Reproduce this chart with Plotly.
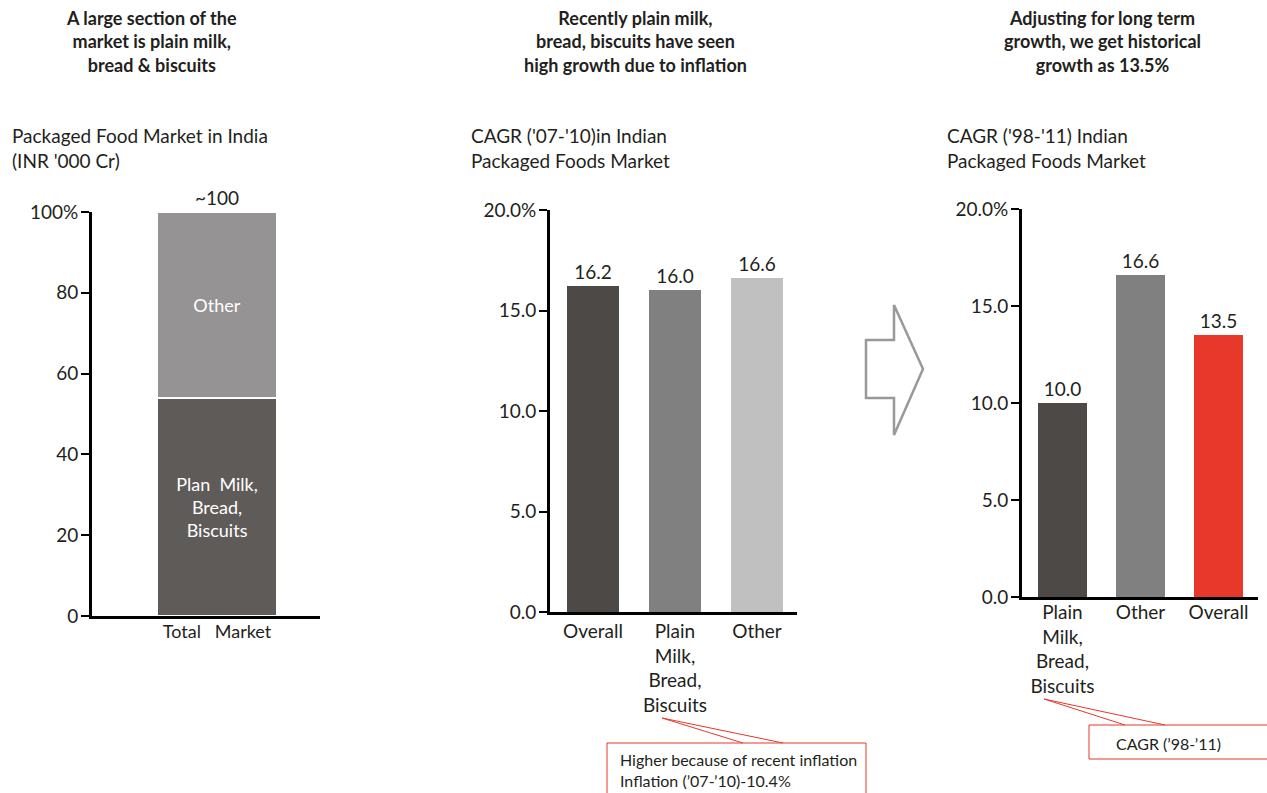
import plotly.graph_objects as go

W, H = 1267, 793
FONT = "Lato"
INK = "#231f20"
RED = "#e8372b"

# Panel 1: composition of the packaged food market (share, %)
market_category = ["Total\u00a0\u00a0 Market"]
plain_share = [54]
other_share = [46]
market_total_label = "~100"
p1_ticks = [0, 20, 40, 60, 80, 100]
p1_ticktext = ["0", "20", "40", "60", "80", "100%"]

# Panel 2: CAGR '07-'10
p2_categories = ["Overall", "Plain<br>Milk,<br>Bread,<br>Biscuits", "Other"]
p2_values = [16.2, 16.0, 16.6]
p2_colors = ["#4d4946", "#808080", "#c0c0c0"]

# Panel 3: CAGR '98-'11
p3_categories = ["Plain<br>Milk,<br>Bread,<br>Biscuits", "Other", "Overall"]
p3_values = [10.0, 16.6, 13.5]
p3_colors = ["#4d4946", "#808080", RED]

cagr_ticks = [0, 5, 10, 15, 20]
cagr_ticktext = ["0.0", "5.0", "10.0", "15.0", "20.0%"]


def px(x):
    return x / W


def py(y):
    return 1 - y / H


fig = go.Figure()

# stacked market bar
fig.add_trace(go.Bar(
    x=market_category, y=plain_share, xaxis="x", yaxis="y",
    marker=dict(color="#5f5b59", line=dict(color="white", width=1.5)),
    width=1.0, text=["Plan\u00a0\u00a0Milk,<br>Bread,<br>Biscuits"],
    textposition="inside", insidetextanchor="middle",
    textfont=dict(color="white", size=18, family=FONT), hoverinfo="skip",
))
fig.add_trace(go.Bar(
    x=market_category, y=other_share, xaxis="x", yaxis="y",
    marker=dict(color="#959393", line=dict(color="white", width=1.5)),
    width=1.0, text=["Other"],
    textposition="inside", insidetextanchor="middle",
    textfont=dict(color="white", size=18, family=FONT), hoverinfo="skip",
))

fig.add_trace(go.Bar(
    x=p2_categories, y=p2_values, xaxis="x2", yaxis="y2",
    marker=dict(color=p2_colors), width=0.634,
    text=[f"{v:.1f}" for v in p2_values], textposition="outside",
    constraintext="none", cliponaxis=False,
    textfont=dict(color=INK, size=19, family=FONT), hoverinfo="skip",
))

fig.add_trace(go.Bar(
    x=p3_categories, y=p3_values, xaxis="x3", yaxis="y3",
    marker=dict(color=p3_colors), width=0.628,
    text=[f"{v:.1f}" for v in p3_values], textposition="outside",
    constraintext="none", cliponaxis=False,
    textfont=dict(color=INK, size=19, family=FONT), hoverinfo="skip",
))

xcommon = dict(showline=True, linecolor="black", linewidth=3, ticks="",
               showgrid=False, zeroline=False, fixedrange=True, automargin=False,
               tickfont=dict(size=19, color=INK, family=FONT))
ycommon = dict(showline=True, linecolor="black", linewidth=3, ticks="outside",
               ticklen=8, tickwidth=2, tickcolor="black", showgrid=False,
               zeroline=False, fixedrange=True, automargin=False,
               ticklabelstandoff=-1,
               tickfont=dict(size=19, color=INK, family=FONT))

fig.update_layout(
    template="none",
    width=W, height=H, margin=dict(l=0, r=0, t=0, b=0, pad=0), autosize=False,
    paper_bgcolor="white", plot_bgcolor="white", showlegend=False,
    barmode="stack", font=dict(family=FONT, color=INK),
    xaxis=dict(xcommon, domain=[px(92), px(320)], anchor="y",
               range=[-1.042, 0.858], ticklabelstandoff=-3,
               tickfont=dict(size=18, color=INK, family=FONT)),
    yaxis=dict(ycommon, domain=[py(616), py(212)], anchor="x",
               range=[0, 100], tickvals=p1_ticks, ticktext=p1_ticktext),
    xaxis2=dict(xcommon, domain=[px(550), px(797)], anchor="y2",
                range=[-0.524, 2.488]),
    yaxis2=dict(ycommon, domain=[py(612), py(210)], anchor="x2",
                range=[0, 20], tickvals=cagr_ticks, ticktext=cagr_ticktext),
    xaxis3=dict(xcommon, domain=[px(1022), px(1258)], anchor="y3",
                range=[-0.519, 2.506], ticklabelstandoff=-4),
    yaxis3=dict(ycommon, domain=[py(597), py(209)], anchor="x3",
                range=[0, 20], tickvals=cagr_ticks, ticktext=cagr_ticktext),
)

annotations = []

# total above stacked bar
annotations.append(dict(x=0, y=sum(plain_share + other_share), xref="x", yref="y",
                        text=market_total_label, showarrow=False, yanchor="bottom",
                        yshift=1, font=dict(size=19, color=INK, family=FONT)))

# panel headlines
headlines = [
    (151, "A large section of the<br>market is plain milk,<br>bread & biscuits"),
    (635, "Recently plain milk,<br>bread, biscuits have seen<br>high growth due to inflation"),
    (1102, "Adjusting for long term<br>growth, we get historical<br>growth as 13.5%"),
]
for cx, txt in headlines:
    annotations.append(dict(x=px(cx), y=py(5), xref="paper", yref="paper",
                            text=f"<b>{txt}</b>", showarrow=False,
                            xanchor="center", yanchor="top", align="center",
                            font=dict(size=18, color=INK, family=FONT)))

# panel subtitles
subtitles = [
    (10, "Packaged Food Market in India<br>(INR '000 Cr)"),
    (469, "CAGR ('07-'10)in Indian<br>Packaged Foods Market"),
    (945, "CAGR ('98-'11) Indian<br>Packaged Foods Market"),
]
for lx, txt in subtitles:
    annotations.append(dict(x=px(lx), y=py(122), xref="paper", yref="paper",
                            text=txt, showarrow=False, xanchor="left",
                            yanchor="top", align="left",
                            font=dict(size=19, color=INK, family=FONT)))

# callout texts
annotations.append(dict(x=px(618), y=py(748), xref="paper", yref="paper",
                        text="Higher because of recent inflation<br>Inflation (\u201907-\u201910)-10.4%",
                        showarrow=False, xanchor="left", yanchor="top", align="left",
                        font=dict(size=16, color=INK, family=FONT)))
annotations.append(dict(x=px(1114), y=py(743), xref="paper", yref="paper",
                        text="CAGR (\u201998-\u201911)",
                        showarrow=False, xanchor="left", yanchor="middle", align="left",
                        font=dict(size=16, color=INK, family=FONT)))

fig.update_layout(annotations=annotations)


def path(points, close=True):
    s = "M " + " L ".join(f"{px(x):.5f},{py(y):.5f}" for x, y in points)
    return s + (" Z" if close else "")


shapes = []
# transition arrow between panels
arrow_pts = [(866, 340), (894, 340), (894, 305), (923, 369),
             (894, 435), (894, 398), (866, 398)]
shapes.append(dict(type="path", xref="paper", yref="paper", path=path(arrow_pts),
                   line=dict(color="#999999", width=2.5), fillcolor="rgba(0,0,0,0)"))

# callout boxes with pointer wedges
shapes.append(dict(type="rect", xref="paper", yref="paper",
                   x0=px(607), x1=px(866), y0=py(743), y1=py(800),
                   line=dict(color=RED, width=1)))
shapes.append(dict(type="path", xref="paper", yref="paper",
                   path=path([(743, 743), (662, 718), (783, 743)], close=False),
                   line=dict(color=RED, width=1)))
shapes.append(dict(type="rect", xref="paper", yref="paper",
                   x0=px(1089), x1=px(1275), y0=py(725), y1=py(759),
                   line=dict(color=RED, width=1)))
shapes.append(dict(type="path", xref="paper", yref="paper",
                   path=path([(1125, 725), (1044, 699), (1165, 725)], close=False),
                   line=dict(color=RED, width=1)))

fig.update_layout(shapes=shapes)

fig.write_html("out.html")
